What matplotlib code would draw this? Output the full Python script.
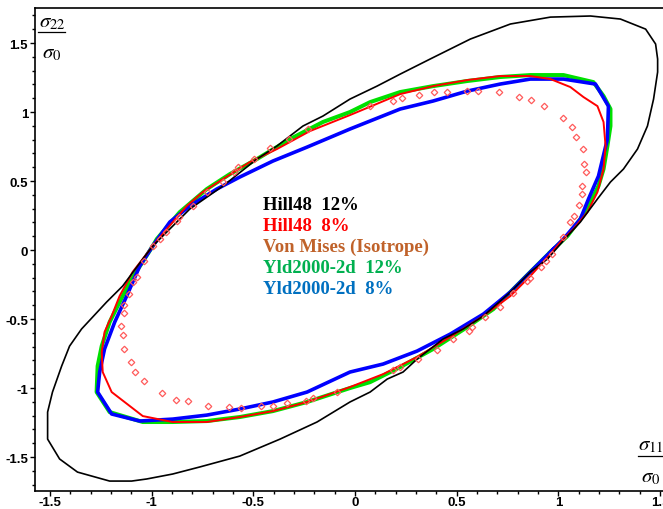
import numpy as np
import matplotlib
matplotlib.use('Agg')
import matplotlib.pyplot as plt
from matplotlib.ticker import MultipleLocator, FormatStrFormatter
from matplotlib.lines import Line2D

plt.rcParams['mathtext.fontset'] = 'stix'

'''
Yield loci read off the picture (sigma11/sigma0, sigma22/sigma0)
'''
# Hill48 12%
hill12_x = [0.946, 1.044, 1.108, 1.192, 1.256, 1.320, 1.389, 1.438, 1.468, 1.488, 1.488, 1.478, 1.429, 1.305,
            1.158, 0.961, 0.764, 0.567, 0.369, 0.222, 0.108, -0.025, -0.158, -0.256, -0.384, -0.483, -0.650,
            -0.813, -0.995, -1.044, -1.143, -1.222, -1.345, -1.404, -1.443, -1.488, -1.512, -1.512, -1.453,
            -1.365, -1.207, -1.099, -1.025, -0.897, -0.764, -0.567, -0.369, -0.187, -0.025, 0.074, 0.158,
            0.236, 0.305, 0.433, 0.532, 0.631, 0.764, 0.862, 0.946]
hill12_y = [-0.065, 0.101, 0.203, 0.370, 0.493, 0.587, 0.732, 0.899, 1.094, 1.290, 1.384, 1.493, 1.601, 1.674,
            1.696, 1.688, 1.638, 1.529, 1.384, 1.275, 1.188, 1.094, 0.971, 0.899, 0.754, 0.659, 0.464,
            0.297, 0.029, -0.065, -0.261, -0.377, -0.572, -0.696, -0.841, -1.029, -1.174, -1.370, -1.514,
            -1.609, -1.674, -1.674, -1.659, -1.623, -1.572, -1.493, -1.370, -1.246, -1.101, -1.029, -0.935,
            -0.884, -0.790, -0.645, -0.572, -0.478, -0.304, -0.159, -0.065]

# Hill48 8%
hill8_x = [0.961, 1.010, 1.074, 1.143, 1.192, 1.222, 1.232, 1.222, 1.192, 1.123, 1.059, 0.961, 0.862, 0.714,
           0.552, 0.384, 0.222, -0.025, -0.222, -0.384, -0.517, -0.650, -0.749, -0.828, -0.926, -0.995,
           -1.094, -1.158, -1.197, -1.232, -1.246, -1.241, -1.197, -1.044, -0.897, -0.729, -0.567, -0.404,
           -0.236, -0.025, 0.138, 0.305, 0.468, 0.631, 0.764, 0.862, 0.961]
hill8_y = [-0.029, 0.058, 0.152, 0.275, 0.420, 0.587, 0.754, 0.928, 1.043, 1.109, 1.181, 1.239, 1.261, 1.261,
           1.232, 1.188, 1.130, 0.978, 0.862, 0.732, 0.638, 0.514, 0.420, 0.319, 0.152, 0.029,
           -0.159, -0.333, -0.478, -0.594, -0.739, -0.884, -1.029, -1.203, -1.246, -1.246, -1.210, -1.167,
           -1.101, -0.993, -0.899, -0.775, -0.630, -0.478, -0.333, -0.188, -0.029]

# Von Mises (isotrope) - diamonds
vm_x = [0.074, 0.187, 0.232, 0.315, 0.389, 0.453, 0.552, 0.606, 0.709, 0.808, 0.867, 0.931, 1.025, 1.069,
        1.089, 1.123, 1.128, 1.138, 1.118, 1.118, 1.099, 1.079, 1.059, 1.025,
        -0.232, -0.325, -0.419, -0.498, -0.576, -0.596, -0.650, -0.729, -0.798, -0.867, -0.877, -0.931,
        -0.961, -0.995,
        -1.039, -1.074, -1.094, -1.113, -1.138, -1.138, -1.153, -1.143, -1.138, -1.103, -1.084, -1.039,
        -0.951, -0.882, -0.823, -0.724, -0.621, -0.562, -0.463, -0.404, -0.335, -0.241, -0.207, -0.089,
        0.187, 0.222, 0.310, 0.404, 0.483, 0.562, 0.576, 0.640, 0.714, 0.778, 0.847, 0.862, 0.916,
        0.941, 0.970]
vm_y = [1.043, 1.080, 1.101, 1.123, 1.145, 1.145, 1.152, 1.152, 1.145, 1.109, 1.087, 1.043, 0.957, 0.891,
        0.819, 0.732, 0.623, 0.565, 0.464, 0.406, 0.326, 0.246, 0.203, 0.094,
        0.877, 0.804, 0.739, 0.659, 0.601, 0.565, 0.493, 0.420, 0.319, 0.239, 0.210, 0.130,
        0.080, 0.029,
        -0.080, -0.196, -0.232, -0.319, -0.399, -0.457, -0.551, -0.616, -0.717, -0.812, -0.884, -0.949,
        -1.036, -1.087, -1.094, -1.130, -1.138, -1.145, -1.130, -1.130, -1.109, -1.094, -1.072, -1.029,
        -0.870, -0.848, -0.790, -0.725, -0.645, -0.587, -0.558, -0.486, -0.413, -0.312, -0.225, -0.203,
        -0.123, -0.080, -0.029]

# Yld2000-2d 12%
yld12_x = [0.961, 1.044, 1.108, 1.158, 1.197, 1.222, 1.241, 1.256, 1.256, 1.222, 1.172, 1.025, 0.862, 0.714,
           0.552, 0.384, 0.222, 0.074, -0.025, -0.158, -0.320, -0.483, -0.616, -0.729, -0.862, -0.975,
           -0.995, -1.108, -1.158, -1.207, -1.246, -1.266, -1.271, -1.207, -1.044, -0.897, -0.729, -0.567,
           -0.404, -0.236, -0.025, 0.074, 0.222, 0.384, 0.552, 0.680, 0.764, 0.862, 0.961]
yld12_y = [-0.014, 0.101, 0.225, 0.348, 0.464, 0.587, 0.754, 0.899, 1.022, 1.116, 1.217, 1.268, 1.268, 1.254,
           1.225, 1.188, 1.145, 1.072, 1.000, 0.928, 0.804, 0.659, 0.550, 0.442, 0.275, 0.080,
           0.029, -0.232, -0.377, -0.522, -0.696, -0.841, -1.029, -1.174, -1.246, -1.246, -1.239, -1.210,
           -1.167, -1.101, -1.000, -0.957, -0.848, -0.717, -0.558, -0.428, -0.304, -0.159, -0.014]

# Yld2000-2d 8%
yld8_x = [0.975, 1.025, 1.108, 1.148, 1.197, 1.241, 1.246, 1.182, 1.025, 0.862, 0.714, 0.552, 0.384, 0.222,
          -0.025, -0.236, -0.404, -0.567, -0.680, -0.813, -0.911, -0.995, -1.059, -1.123, -1.182, -1.232,
          -1.256, -1.266, -1.197, -1.059, -0.897, -0.729, -0.567, -0.404, -0.236, -0.025, 0.138, 0.305,
          0.468, 0.631, 0.764, 0.862, 0.975]
yld8_y = [0.007, 0.080, 0.225, 0.370, 0.536, 0.804, 1.043, 1.203, 1.239, 1.239, 1.203, 1.152, 1.080, 1.022,
          0.877, 0.746, 0.645, 0.529, 0.442, 0.319, 0.203, 0.029, -0.116, -0.333, -0.522, -0.717,
          -0.884, -1.029, -1.188, -1.239, -1.225, -1.196, -1.152, -1.101, -1.029, -0.884, -0.826, -0.732,
          -0.609, -0.464, -0.304, -0.159, 0.007]

labels = ['Hill48  12%', 'Hill48  8%', 'Von Mises (Isotrope)', 'Yld2000-2d  12%', 'Yld2000-2d  8%']
label_colors = ['black', '#ff0000', '#c0622a', '#00b050', '#0070c0']

'''
Graphing
'''
W, H = 663, 510
fig = plt.figure(figsize=(W/100, H/100), dpi=100)
# axes box in pixels: left 35, right past the edge, top 9, bottom 492
ax = fig.add_axes([35/W, (H-492)/H, (668-35)/W, (492-9)/H])

ax.plot(yld12_x, yld12_y, color='#00e000', lw=2.9, zorder=2)
ax.plot(yld8_x, yld8_y, color='#0000ff', lw=2.6, zorder=3)
ax.plot(hill8_x, hill8_y, color='#ff0000', lw=1.4, zorder=4)
ax.plot(hill12_x, hill12_y, color='black', lw=1.2, zorder=4)
ax.plot(vm_x, vm_y, ls='none', marker='D', ms=3.3, mfc='none', mec='#ff5a5a', mew=0.9, zorder=5)

ax.set_xlim(-1.574, 1.539)
ax.set_ylim(-1.746, 1.754)

ax.xaxis.set_major_locator(MultipleLocator(0.5))
ax.xaxis.set_minor_locator(MultipleLocator(0.1))
ax.yaxis.set_major_locator(MultipleLocator(0.5))
ax.yaxis.set_minor_locator(MultipleLocator(0.1))
ax.xaxis.set_major_formatter(FormatStrFormatter('%g'))
ax.yaxis.set_major_formatter(FormatStrFormatter('%g'))
ax.tick_params(which='both', direction='out', top=False, right=False, width=1, color='black')
ax.tick_params(which='major', length=3.5, pad=1.5)
ax.tick_params(which='minor', length=2.5)
ax.tick_params(axis='x', which='major', pad=0)
for lab in ax.get_xticklabels() + ax.get_yticklabels():
    lab.set_family('Liberation Sans')
    lab.set_fontweight('bold')
    lab.set_fontsize(9.5)
for s in ax.spines.values():
    s.set_linewidth(1.2)

# axis labels as stacked fractions: numerator, bar, denominator
def frac_label(xc, y_num, y_bar, y_den, x0, x1, num, den):
    fig.text(xc/W, 1-y_num/H, num, fontsize=15, ha='center', va='center')
    fig.text(xc/W, 1-y_den/H, den, fontsize=15, ha='center', va='center')
    fig.add_artist(Line2D([x0/W, x1/W], [1-y_bar/H, 1-y_bar/H], color='black', lw=0.9,
                          transform=fig.transFigure))

frac_label(52, 22, 33, 53, 38, 65, r'$\sigma_{22}$', r'$\sigma_0$')
frac_label(651, 445, 457, 477, 638, 663, r'$\sigma_{11}$', r'$\sigma_0$')

# legend as coloured text
for i, (t, c) in enumerate(zip(labels, label_colors)):
    ax.text(-0.453, 0.333 - i*0.153, t, color=c, family='Liberation Serif', fontweight='bold',
            fontsize=13.5, ha='left', va='center', zorder=6)

plt.savefig('out.png', dpi=100)
